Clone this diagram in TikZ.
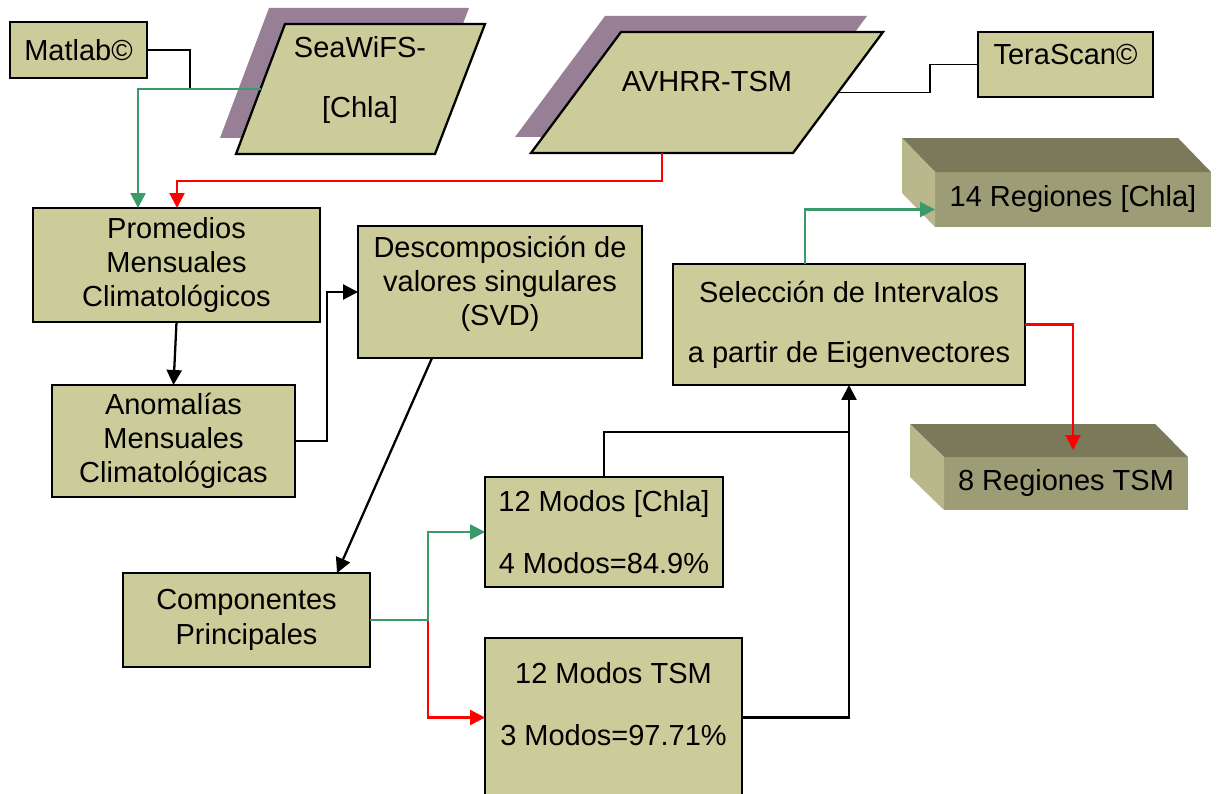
\documentclass[tikz,border=0pt]{standalone}
\usepackage{fontspec}
\setmainfont{Liberation Sans}
\usepackage{xcolor}
\usetikzlibrary{arrows.meta,calc}

\definecolor{boxfill}{HTML}{CCCC9A}
\definecolor{shadowfill}{HTML}{978096}
\definecolor{linkgreen}{HTML}{3A9A6A}
\definecolor{topface}{HTML}{7A7A5A}
\definecolor{frontface}{HTML}{9C9C76}
\definecolor{sideface}{HTML}{B8B88C}

\begin{document}
\begin{tikzpicture}[x=0.02cm,y=-0.02cm,
  every node/.style={font=\fontsize{16.5}{19.5}\selectfont},
  box/.style={draw,line width=1.3pt,fill=boxfill,align=center,inner sep=0pt,outer sep=0pt},
  slab/.style={fill=frontface,inner sep=0pt,outer sep=0pt},
  link/.style={line width=1.3pt},
  thin link/.style={line width=0.9pt},
  tip/.style={-{Triangle[length=0.3cm,width=0.3cm]}}]
\useasboundingbox (0,0) rectangle (1218,794);
%% input data
\fill[shadowfill] (269,8) -- (469,8) -- (419,138) -- (220,138) -- cycle;
\draw[line width=1.3pt,fill=boxfill] (285,24) -- (485,24) -- (435,154) -- (236,154) -- cycle;
\node[align=center] (sw) at (360,80) {SeaWiFS-\\[14.5pt][Chla]};
\coordinate (swL) at (260.5,89);
%%
\fill[shadowfill] (605,16) -- (867,16) -- (777,137) -- (515,137) -- cycle;
\draw[line width=1.3pt,fill=boxfill] (621,32) -- (883,32) -- (793,153) -- (531,153) -- cycle;
\node (av) at (707,82) {AVHRR-TSM};
\coordinate (avE) at (838,92.5);
\coordinate (avS) at (662,153);
%%
\node[box,minimum width=2.74cm,minimum height=1.12cm] (matlab) at (78.5,50) {Matlab©};
\node[box,minimum width=3.5cm,minimum height=1.3cm,text depth=11pt] (tera) at (1065.5,64.5) {TeraScan©};
%% processing
\node[box,minimum width=5.74cm,minimum height=2.28cm] (prom) at (176.5,265) {Promedios\\Mensuales\\Climatológicos};
\node[box,minimum width=4.86cm,minimum height=2.24cm] (anom) at (173.5,441) {Anomalías\\Mensuales\\Climatológicas};
\node[box,minimum width=5.68cm,minimum height=2.64cm,text depth=12.5pt] (desc) at (500,292) {Descomposición de\\valores singulares\\(SVD)};
\node[box,minimum width=4.94cm,minimum height=1.88cm] (comp) at (246.5,620) {Componentes\\Principales};
\node[box,minimum width=4.76cm,minimum height=2.2cm] (chla) at (604,532) {12 Modos [Chla]\\[15.7pt]4 Modos=84.9\%};
\node[box,minimum width=5.14cm,minimum height=3.18cm,text depth=15.8pt] (tsm) at (613.5,717.5) {12 Modos TSM\\[15.7pt]3 Modos=97.71\%};
\node[box,minimum width=7.04cm,minimum height=2.42cm] (sel) at (849,324.5) {Selección de Intervalos\\[14.5pt]a partir de Eigenvectores};
%% results
\node[slab,minimum width=5.52cm,minimum height=1.1cm] (reg14) at (1073,199.5) {14 Regiones [Chla]};
\fill[topface] (reg14.north west) -- ++(-33,-34) -- ++(276,0) -- (reg14.north east) -- cycle;
\fill[sideface] (reg14.north west) -- ++(-33,-34) -- ++(0,55) -- (reg14.south west) -- cycle;
\node[slab,minimum width=4.88cm,minimum height=1.06cm] (reg8) at (1066,483.5) {8 Regiones TSM};
\fill[topface] (reg8.north west) -- ++(-34,-33) -- ++(245,0) -- (reg8.north east) -- cycle;
\fill[sideface] (reg8.north west) -- ++(-34,-33) -- ++(0,53) -- (reg8.south west) -- cycle;
%% links
\draw[thin link] (matlab.east) -- ++(43,0) |- (swL);
\draw[link,linkgreen,tip] (swL) -| ($(prom.north west)+(105,0)$);
\draw[link,red,tip] (avS) -- ++(0,28) -| ($(prom.north west)+(144,0)$);
\draw[thin link] (avE) -- ++(92,0) |- (tera.west);
\draw[link,tip] (prom.south) -- (anom.north);
\draw[link,tip] (anom.east) -- ++(32,0) |- (desc.west);
\draw[link,tip] ($(desc.south west)+(74,0)$) -- ($(comp.north west)+(214,0)$);
\draw[link,red,tip] ($(comp.east)+(58,0)$) |- (tsm.west);
\draw[link,linkgreen,tip] (comp.east) -- ++(58,0) |- (chla.west);
\draw[link] (chla.north) |- ($(sel.south)+(0,47)$);
\draw[link,tip] (tsm.east) -| (sel.south);
\draw[link,linkgreen,tip] ($(sel.north west)+(132,0)$) |- ($(reg14.west)+(0,10)$);
\draw[link,red,tip] (sel.east) -| ($(reg8.north west)+(129,-7)$);
\end{tikzpicture}
\end{document}
